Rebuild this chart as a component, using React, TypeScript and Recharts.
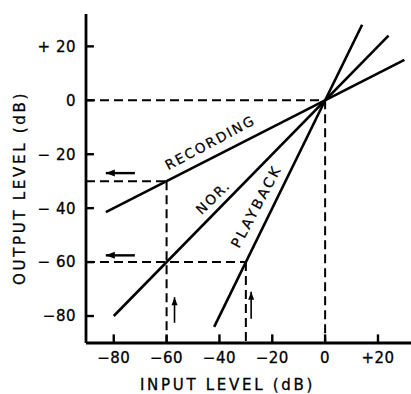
import React from 'react';
import { LineChart, Line, XAxis, YAxis, ReferenceDot } from 'recharts';

// characteristic curves (input dB -> output dB)
const recording = [
  { x: -83, y: -41.5 },
  { x: 30, y: 15 },
];
const normal = [
  { x: -80, y: -80 },
  { x: 24, y: 24 },
];
const playback = [
  { x: -42, y: -84 },
  { x: 14, y: 28 },
];

// dashed guide lines
const guideH0 = [
  { x: -90.5, y: 0 },
  { x: 0, y: 0 },
];
const guideV0 = [
  { x: 0, y: 0 },
  { x: 0, y: -90 },
];
const guideH30 = [
  { x: -90.5, y: -30 },
  { x: -60, y: -30 },
];
const guideV60 = [
  { x: -60, y: -30 },
  { x: -60, y: -90 },
];
const guideH60 = [
  { x: -90.5, y: -60 },
  { x: -30, y: -60 },
];
const guideV30 = [
  { x: -30, y: -60 },
  { x: -30, y: -90 },
];

// arrows (head is the last point)
const arrowLeft1 = [
  { x: -72, y: -27 },
  { x: -83, y: -27 },
];
const arrowLeft2 = [
  { x: -72, y: -57.5 },
  { x: -83, y: -57.5 },
];
const arrowUp1 = [
  { x: -57, y: -82.5 },
  { x: -57, y: -73 },
];
const arrowUp2 = [
  { x: -28, y: -81 },
  { x: -28, y: -71 },
];

const X_MIN = -90.5;
const X_MAX = 32.5;
const Y_MIN = -90;
const Y_MAX = 32;

const xTicks = [-80, -60, -40, -20, 0, 20];
const xTickLabels = ['\u221280', '\u221260', '\u221240', '\u221220', '0', '+20'];
const yTicks = [-80, -60, -40, -20, 0, 20];
const yTickLabels = ['\u221280', '\u2212 60', '\u2212 40', '\u2212 20', '0', '+ 20'];

const curveLabels = [
  { text: 'RECORDING', x: -43.5, y: -15.6, angle: -28, size: 13.5, spacing: 2 },
  { text: 'NOR.', x: -42.4, y: -35.9, angle: -44, size: 13.5, spacing: 2 },
  { text: 'PLAYBACK', x: -26.1, y: -39.3, angle: -62, size: 14, spacing: 2.5 },
];

const FONT = '"DejaVu Sans", sans-serif';
const PLOT_LEFT = 86; // y axis position (YAxis width)
const PLOT_BOTTOM = 343; // x axis position (394 - XAxis height)

const XTick = (props: any) => {
  const { x, payload } = props;
  const i = xTicks.indexOf(payload.value);
  return (
    <text
      x={x}
      y={PLOT_BOTTOM + 20}
      textAnchor="middle"
      fontSize={15}
      fontFamily={FONT}
      letterSpacing={0.5}
      fill="#000"
      stroke="#000"
      strokeWidth={0.3}
    >
      {xTickLabels[i]}
    </text>
  );
};

const YTick = (props: any) => {
  const { y, payload } = props;
  const i = yTicks.indexOf(payload.value);
  return (
    <text
      x={PLOT_LEFT - 10}
      y={y}
      dy="0.36em"
      textAnchor="end"
      fontSize={15}
      fontFamily={FONT}
      letterSpacing={0.5}
      fill="#000"
      stroke="#000"
      strokeWidth={0.3}
    >
      {yTickLabels[i]}
    </text>
  );
};

const arrowHead = (dir: 'left' | 'up') => (props: any) => {
  const { cx, cy, index } = props;
  if (index !== 1) return <g key={`a${index}`} />;
  const pts =
    dir === 'left'
      ? `${cx},${cy} ${cx + 9},${cy - 3.5} ${cx + 9},${cy + 3.5}`
      : `${cx},${cy} ${cx - 3},${cy + 8} ${cx + 3},${cy + 8}`;
  return <polygon key={`a${index}`} points={pts} fill="#000" />;
};

export default function App() {
  const solid = { stroke: '#000', strokeWidth: 2.6, dot: false, activeDot: false, isAnimationActive: false };
  const dashed = { ...solid, strokeWidth: 2, strokeDasharray: '9 5' };

  return (
    <div style={{ position: 'absolute', left: 0, top: 0, width: 411, height: 394, background: '#fff' }}>
      <LineChart width={411} height={394} margin={{ top: 14, right: 0, bottom: 0, left: 0 }}>
        <XAxis
          type="number"
          dataKey="x"
          domain={[X_MIN, X_MAX]}
          allowDataOverflow
          ticks={xTicks}
          tick={<XTick />}
          tickLine={false}
          tickSize={0}
          tickMargin={0}
          height={51}
          axisLine={{ stroke: '#000', strokeWidth: 2.8 }}
          label={{
            content: ({ viewBox }: any) => (
              <text
                x={viewBox.x + viewBox.width / 2 - 21}
                y={viewBox.y + 47}
                textAnchor="middle"
                fontSize={15}
                fontFamily={FONT}
                letterSpacing={2.7}
                fill="#000"
                stroke="#000"
                strokeWidth={0.3}
              >
                INPUT LEVEL (dB)
              </text>
            ),
          }}
        />
        <YAxis
          type="number"
          dataKey="y"
          domain={[Y_MIN, Y_MAX]}
          allowDataOverflow
          ticks={yTicks}
          tick={<YTick />}
          tickLine={false}
          tickSize={0}
          tickMargin={0}
          width={PLOT_LEFT}
          axisLine={{ stroke: '#000', strokeWidth: 2.8 }}
          label={{
            content: ({ viewBox }: any) => {
              const cx = 20;
              const cy = viewBox.y + 174;
              return (
                <text
                  x={cx}
                  y={cy}
                  textAnchor="middle"
                  dominantBaseline="central"
                  transform={`rotate(-90 ${cx} ${cy})`}
                  fontSize={15}
                  fontFamily={FONT}
                  letterSpacing={2.7}
                  fill="#000"
                  stroke="#000"
                  strokeWidth={0.3}
                >
                  OUTPUT LEVEL (dB)
                </text>
              );
            },
          }}
        />

        {/* inward tick marks */}
        {xTicks.map((t) => (
          <Line
            key={`xt${t}`}
            data={[
              { x: t, y: Y_MIN },
              { x: t, y: Y_MIN + 3.2 },
            ]}
            dataKey="y"
            {...solid}
            strokeWidth={2.4}
          />
        ))}
        {yTicks.map((t) => (
          <Line
            key={`yt${t}`}
            data={[
              { x: X_MIN, y: t },
              { x: X_MIN + 3, y: t },
            ]}
            dataKey="y"
            {...solid}
            strokeWidth={2.4}
          />
        ))}

        <Line data={guideH0} dataKey="y" {...dashed} />
        <Line data={guideV0} dataKey="y" {...dashed} />
        <Line data={guideH30} dataKey="y" {...dashed} />
        <Line data={guideV60} dataKey="y" {...dashed} />
        <Line data={guideH60} dataKey="y" {...dashed} />
        <Line data={guideV30} dataKey="y" {...dashed} />

        <Line data={recording} dataKey="y" {...solid} />
        <Line data={normal} dataKey="y" {...solid} />
        <Line data={playback} dataKey="y" {...solid} />

        <Line data={arrowLeft1} dataKey="y" {...solid} strokeWidth={2.4} dot={arrowHead('left')} />
        <Line data={arrowLeft2} dataKey="y" {...solid} strokeWidth={2.4} dot={arrowHead('left')} />
        <Line data={arrowUp1} dataKey="y" {...solid} strokeWidth={1.6} dot={arrowHead('up')} />
        <Line data={arrowUp2} dataKey="y" {...solid} strokeWidth={1.6} dot={arrowHead('up')} />

        {curveLabels.map((l) => (
          <ReferenceDot
            key={l.text}
            x={l.x}
            y={l.y}
            r={0}
            ifOverflow="visible"
            shape={(p: any) => (
              <text
                x={p.cx}
                y={p.cy}
                textAnchor="middle"
                dominantBaseline="central"
                transform={`rotate(${l.angle} ${p.cx} ${p.cy})`}
                fontSize={l.size}
                fontFamily={FONT}
                letterSpacing={l.spacing}
                fill="#000"
                stroke="#000"
                strokeWidth={0.25}
              >
                {l.text}
              </text>
            )}
          />
        ))}
      </LineChart>
    </div>
  );
}
